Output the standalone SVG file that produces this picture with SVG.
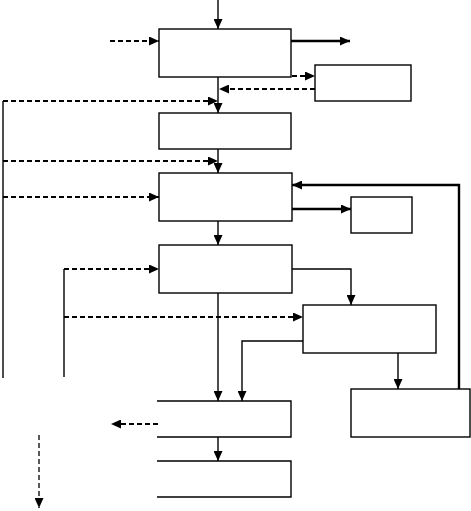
<svg xmlns="http://www.w3.org/2000/svg" width="471" height="511" viewBox="0 0 471 511">
<style>
.box{fill:none;stroke:#000;stroke-width:1.4}
.ln{fill:none;stroke:#000;stroke-width:1.4}
.thick{fill:none;stroke:#000;stroke-width:2.4}
.dash{fill:none;stroke:#000;stroke-width:2;stroke-dasharray:5 3}
.dashv{fill:none;stroke:#000;stroke-width:1.3;stroke-dasharray:5 3}
</style>
<defs>
<marker id="ah" markerUnits="userSpaceOnUse" markerWidth="11" markerHeight="9" refX="10" refY="4.5" orient="auto">
<path d="M0,0 L10,4.5 L0,9 z" fill="#000"/>
</marker>
</defs>
<rect width="471" height="511" fill="#fff"/>
<g id="n1"><rect class="box" x="159" y="29" width="132" height="48"/></g>
<g id="n2"><rect class="box" x="315" y="65" width="96" height="36"/></g>
<g id="n3"><rect class="box" x="159" y="113" width="132" height="36"/></g>
<g id="n4"><rect class="box" x="159" y="173" width="133" height="48"/></g>
<g id="n5"><rect class="box" x="351" y="197" width="61" height="36"/></g>
<g id="n6"><rect class="box" x="159" y="245" width="133" height="48"/></g>
<g id="n7"><rect class="box" x="303" y="305" width="133" height="48"/></g>
<g id="n8"><rect class="box" x="351" y="389" width="119" height="48"/></g>
<g id="n9"><path class="box" d="M157,401 H291 V437 H157"/></g>
<g id="n10"><path class="box" d="M157,461 H291 V497 H157"/></g>
<g id="connectors">
<path class="ln" d="M218,0 V29" marker-end="url(#ah)"/>
<path class="dash" d="M110,41 H159" marker-end="url(#ah)"/>
<path class="thick" d="M291,41 H350" marker-end="url(#ah)"/>
<path class="dash" d="M292,76 H315" marker-end="url(#ah)"/>
<path class="dash" d="M315,89 H219" marker-end="url(#ah)"/>
<path class="ln" d="M218,77 V113" marker-end="url(#ah)"/>
<path class="ln" d="M3,101 V378"/>
<path class="dash" d="M3,101 H218" marker-end="url(#ah)"/>
<path class="ln" d="M218,149 V173" marker-end="url(#ah)"/>
<path class="dash" d="M3,161 H218" marker-end="url(#ah)"/>
<path class="dash" d="M3,197 H159" marker-end="url(#ah)"/>
<path class="thick" d="M459,389 V185 H292" marker-end="url(#ah)"/>
<path class="thick" d="M292,209 H351" marker-end="url(#ah)"/>
<path class="ln" d="M218,221 V245" marker-end="url(#ah)"/>
<path class="ln" d="M64,269 V377"/>
<path class="dash" d="M64,269 H159" marker-end="url(#ah)"/>
<path class="ln" d="M292,269 H351 V305" marker-end="url(#ah)"/>
<path class="dash" d="M64,317 H303" marker-end="url(#ah)"/>
<path class="ln" d="M218,293 V401" marker-end="url(#ah)"/>
<path class="ln" d="M303,341 H242 V401" marker-end="url(#ah)"/>
<path class="ln" d="M398,353 V389" marker-end="url(#ah)"/>
<path class="ln" d="M218,437 V461" marker-end="url(#ah)"/>
<path class="dash" d="M158,424 H111" marker-end="url(#ah)"/>
<path class="dashv" d="M39,435 V508" marker-end="url(#ah)"/>
</g>
</svg>
